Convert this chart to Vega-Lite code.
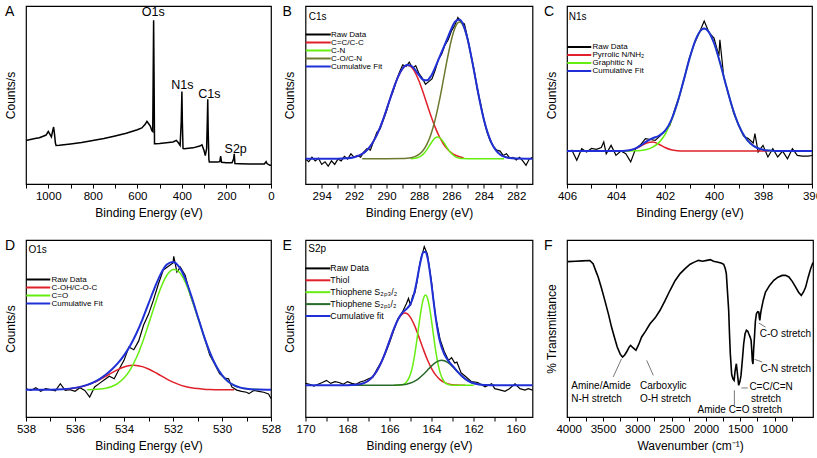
{
"$schema":"https://vega.github.io/schema/vega-lite/v6.json",
"padding":{"left":3,"top":4,"right":0,"bottom":0},
"background":"white",
"config":{
 "font":"Liberation Sans",
 "view":{"stroke":"#000","strokeWidth":1.2},
 "axis":{"grid":false,"domain":false,"labelColor":"#000","titleColor":"#000","titleFontWeight":"normal","titleFontSize":12,"labelFontSize":11.5,"tickColor":"#000","labelFont":"Liberation Sans","titleFont":"Liberation Sans"},
 "axisX":{"tickSize":4,"labelPadding":2,"titlePadding":6,"labelFlush":false,"labelOverlap":false,"format":"d"},
 "axisY":{"labels":false,"ticks":false,"titlePadding":9},
 "title":{"fontSize":14,"fontWeight":"normal","anchor":"start","frame":"group","color":"#000","offset":0},
 "legend":{"labelColor":"#000","labelFont":"Liberation Sans"}
},
"datasets":{
"A":[{"x":1100,"y":24.5},{"x":1080,"y":25},{"x":1060,"y":25.5},{"x":1040,"y":26},{"x":1020,"y":27},{"x":1010,"y":27.5},{"x":1000,"y":29.5},{"x":993,"y":28},{"x":986,"y":26.5},{"x":980,"y":30},{"x":976,"y":32},{"x":972,"y":28},{"x":968,"y":23},{"x":965,"y":21.7},{"x":950,"y":21.8},{"x":900,"y":22.5},{"x":850,"y":23.3},{"x":800,"y":24.5},{"x":750,"y":25.6},{"x":700,"y":27},{"x":650,"y":28.5},{"x":600,"y":30.5},{"x":580,"y":31.5},{"x":565,"y":33.5},{"x":557,"y":35.2},{"x":550,"y":34},{"x":542,"y":32.6},{"x":535,"y":30},{"x":531,"y":29.5},{"x":529,"y":60},{"x":527,"y":92},{"x":525,"y":60},{"x":523,"y":22.6},{"x":519,"y":22.6},{"x":500,"y":22.8},{"x":470,"y":23.2},{"x":440,"y":23.6},{"x":425,"y":24.5},{"x":415,"y":23},{"x":408,"y":21.7},{"x":403,"y":35},{"x":400,"y":52},{"x":398,"y":35},{"x":395,"y":20},{"x":390,"y":19.8},{"x":350,"y":20.3},{"x":320,"y":21.3},{"x":310,"y":22},{"x":300,"y":18.5},{"x":295,"y":16},{"x":289,"y":20},{"x":286,"y":35},{"x":284,"y":47.6},{"x":282,"y":30},{"x":279,"y":14},{"x":277,"y":12.4},{"x":260,"y":12.4},{"x":240,"y":12.3},{"x":230,"y":12.6},{"x":226,"y":15.7},{"x":222,"y":12.2},{"x":200,"y":12},{"x":175,"y":12},{"x":168,"y":14},{"x":165,"y":17},{"x":162,"y":11.5},{"x":140,"y":11.4},{"x":100,"y":11.3},{"x":60,"y":11.2},{"x":30,"y":11.2},{"x":22,"y":12.5},{"x":18,"y":11.5},{"x":5,"y":10.5},{"x":0,"y":10.5}],
"Alab":[{"t":"O1s","x":528.4,"y":96.4},{"t":"N1s","x":398,"y":55.8},{"t":"C1s","x":277,"y":50.4},{"t":"S2p","x":158.5,"y":19.8}],
"B":[
{"s":"Raw Data","x":295,"y":14},{"s":"Raw Data","x":294.8,"y":12.5},{"s":"Raw Data","x":294.6,"y":15},{"s":"Raw Data","x":294.4,"y":13},{"s":"Raw Data","x":294.2,"y":14.5},{"s":"Raw Data","x":294,"y":11},{"s":"Raw Data","x":293.8,"y":12.5},{"s":"Raw Data","x":293.6,"y":10},{"s":"Raw Data","x":293.4,"y":13},{"s":"Raw Data","x":293.2,"y":11},{"s":"Raw Data","x":293,"y":14},{"s":"Raw Data","x":292.8,"y":13},{"s":"Raw Data","x":292.6,"y":15.5},{"s":"Raw Data","x":292.4,"y":14},{"s":"Raw Data","x":292.2,"y":17},{"s":"Raw Data","x":292,"y":15},{"s":"Raw Data","x":291.8,"y":16},{"s":"Raw Data","x":291.6,"y":15},{"s":"Raw Data","x":291.4,"y":18},{"s":"Raw Data","x":291.2,"y":20},{"s":"Raw Data","x":291,"y":19},{"s":"Raw Data","x":290.8,"y":24},{"s":"Raw Data","x":290.6,"y":29},{"s":"Raw Data","x":290.4,"y":31},{"s":"Raw Data","x":290.2,"y":36},{"s":"Raw Data","x":290,"y":41},{"s":"Raw Data","x":289.8,"y":47.5},{"s":"Raw Data","x":289.6,"y":52},{"s":"Raw Data","x":289.4,"y":58},{"s":"Raw Data","x":289.2,"y":63},{"s":"Raw Data","x":289,"y":67},{"s":"Raw Data","x":288.8,"y":66},{"s":"Raw Data","x":288.6,"y":68.5},{"s":"Raw Data","x":288.4,"y":65},{"s":"Raw Data","x":288.2,"y":66.5},{"s":"Raw Data","x":288,"y":62},{"s":"Raw Data","x":287.8,"y":59.5},{"s":"Raw Data","x":287.6,"y":56},{"s":"Raw Data","x":287.4,"y":57.5},{"s":"Raw Data","x":287.2,"y":59},{"s":"Raw Data","x":287,"y":64},{"s":"Raw Data","x":286.8,"y":70},{"s":"Raw Data","x":286.6,"y":73},{"s":"Raw Data","x":286.4,"y":78},{"s":"Raw Data","x":286.2,"y":81},{"s":"Raw Data","x":286,"y":86},{"s":"Raw Data","x":285.8,"y":89},{"s":"Raw Data","x":285.6,"y":93.5},{"s":"Raw Data","x":285.4,"y":91},{"s":"Raw Data","x":285.2,"y":90},{"s":"Raw Data","x":285,"y":82},{"s":"Raw Data","x":284.8,"y":72.5},{"s":"Raw Data","x":284.6,"y":64},{"s":"Raw Data","x":284.4,"y":53},{"s":"Raw Data","x":284.2,"y":45},{"s":"Raw Data","x":284,"y":36},{"s":"Raw Data","x":283.8,"y":29},{"s":"Raw Data","x":283.6,"y":24},{"s":"Raw Data","x":283.4,"y":21},{"s":"Raw Data","x":283.2,"y":19},{"s":"Raw Data","x":283,"y":18.5},{"s":"Raw Data","x":282.8,"y":16},{"s":"Raw Data","x":282.6,"y":17},{"s":"Raw Data","x":282.4,"y":14.5},{"s":"Raw Data","x":282.2,"y":15},{"s":"Raw Data","x":282,"y":13.5},{"s":"Raw Data","x":281.8,"y":15},{"s":"Raw Data","x":281.6,"y":13},{"s":"Raw Data","x":281.4,"y":10.5},{"s":"Raw Data","x":281.2,"y":14},{"s":"Raw Data","x":281,"y":15},
{"s":"C=C/C-C","x":292,"y":15.06},{"s":"C=C/C-C","x":291.5,"y":16.91},{"s":"C=C/C-C","x":291.25,"y":18.69},{"s":"C=C/C-C","x":291,"y":21.3},{"s":"C=C/C-C","x":290.75,"y":24.92},{"s":"C=C/C-C","x":290.5,"y":29.62},{"s":"C=C/C-C","x":290.25,"y":35.37},{"s":"C=C/C-C","x":290,"y":41.91},{"s":"C=C/C-C","x":289.75,"y":48.8},{"s":"C=C/C-C","x":289.5,"y":55.41},{"s":"C=C/C-C","x":289.25,"y":61.02},{"s":"C=C/C-C","x":289,"y":64.94},{"s":"C=C/C-C","x":288.75,"y":66.65},{"s":"C=C/C-C","x":288.5,"y":65.91},{"s":"C=C/C-C","x":288.25,"y":62.83},{"s":"C=C/C-C","x":288,"y":57.82},{"s":"C=C/C-C","x":287.75,"y":51.52},{"s":"C=C/C-C","x":287.5,"y":44.66},{"s":"C=C/C-C","x":287.25,"y":37.91},{"s":"C=C/C-C","x":287,"y":31.8},{"s":"C=C/C-C","x":286.75,"y":26.67},{"s":"C=C/C-C","x":286.5,"y":22.62},{"s":"C=C/C-C","x":286.25,"y":19.63},{"s":"C=C/C-C","x":286,"y":17.54},{"s":"C=C/C-C","x":285.75,"y":16.16},{"s":"C=C/C-C","x":285.5,"y":15.29},{"s":"C=C/C-C","x":285.25,"y":14.78},
{"s":"C-N","x":288.5,"y":14.25},{"s":"C-N","x":288.25,"y":14.44},{"s":"C-N","x":288,"y":15.07},{"s":"C-N","x":287.75,"y":16.62},{"s":"C-N","x":287.5,"y":19.44},{"s":"C-N","x":287.25,"y":23.06},{"s":"C-N","x":287,"y":25.86},{"s":"C-N","x":286.85,"y":26.4},{"s":"C-N","x":286.75,"y":26.16},{"s":"C-N","x":286.5,"y":23.75},{"s":"C-N","x":286.25,"y":20.14},{"s":"C-N","x":286,"y":17.08},{"s":"C-N","x":285.75,"y":15.28},{"s":"C-N","x":285.5,"y":14.52},{"s":"C-N","x":285.25,"y":14.27},{"s":"C-N","x":285,"y":14.2},{"s":"C-N","x":284,"y":14.2},{"s":"C-N","x":282.75,"y":14.2},
{"s":"C-O/C-N","x":291.5,"y":14.2},{"s":"C-O/C-N","x":290,"y":14.2},{"s":"C-O/C-N","x":289,"y":14.29},{"s":"C-O/C-N","x":288.75,"y":14.42},{"s":"C-O/C-N","x":288.5,"y":14.72},{"s":"C-O/C-N","x":288.25,"y":15.36},{"s":"C-O/C-N","x":288,"y":16.61},{"s":"C-O/C-N","x":287.75,"y":18.85},{"s":"C-O/C-N","x":287.5,"y":22.57},{"s":"C-O/C-N","x":287.25,"y":28.28},{"s":"C-O/C-N","x":287,"y":36.28},{"s":"C-O/C-N","x":286.75,"y":46.52},{"s":"C-O/C-N","x":286.5,"y":58.34},{"s":"C-O/C-N","x":286.25,"y":70.44},{"s":"C-O/C-N","x":286,"y":81.07},{"s":"C-O/C-N","x":285.75,"y":88.39},{"s":"C-O/C-N","x":285.5,"y":91},{"s":"C-O/C-N","x":285.25,"y":88.39},{"s":"C-O/C-N","x":285,"y":81.07},{"s":"C-O/C-N","x":284.75,"y":70.44},{"s":"C-O/C-N","x":284.5,"y":58.34},{"s":"C-O/C-N","x":284.25,"y":46.52},{"s":"C-O/C-N","x":284,"y":36.28},{"s":"C-O/C-N","x":283.75,"y":28.28},{"s":"C-O/C-N","x":283.5,"y":22.57},{"s":"C-O/C-N","x":283.25,"y":18.85},{"s":"C-O/C-N","x":283,"y":16.61},{"s":"C-O/C-N","x":282.75,"y":15.36},{"s":"C-O/C-N","x":282.5,"y":14.72},{"s":"C-O/C-N","x":282.25,"y":14.42},{"s":"C-O/C-N","x":282,"y":14.29},
{"s":"Cumulative Fit","x":295,"y":14.2},{"s":"Cumulative Fit","x":294,"y":14.2},{"s":"Cumulative Fit","x":293,"y":14.2},{"s":"Cumulative Fit","x":292.5,"y":14.4},{"s":"Cumulative Fit","x":292,"y":15.06},{"s":"Cumulative Fit","x":291.5,"y":16.91},{"s":"Cumulative Fit","x":291.25,"y":18.69},{"s":"Cumulative Fit","x":291,"y":21.3},{"s":"Cumulative Fit","x":290.75,"y":24.92},{"s":"Cumulative Fit","x":290.5,"y":29.62},{"s":"Cumulative Fit","x":290.25,"y":35.37},{"s":"Cumulative Fit","x":290,"y":41.91},{"s":"Cumulative Fit","x":289.75,"y":48.8},{"s":"Cumulative Fit","x":289.5,"y":55.41},{"s":"Cumulative Fit","x":289.25,"y":61.02},{"s":"Cumulative Fit","x":289,"y":65.03},{"s":"Cumulative Fit","x":288.75,"y":66.87},{"s":"Cumulative Fit","x":288.5,"y":66.48},{"s":"Cumulative Fit","x":288.25,"y":64.23},{"s":"Cumulative Fit","x":288,"y":61.1},{"s":"Cumulative Fit","x":287.75,"y":58.59},{"s":"Cumulative Fit","x":287.5,"y":58.27},{"s":"Cumulative Fit","x":287.25,"y":60.85},{"s":"Cumulative Fit","x":287,"y":65.54},{"s":"Cumulative Fit","x":286.75,"y":70.95},{"s":"Cumulative Fit","x":286.5,"y":76.31},{"s":"Cumulative Fit","x":286.25,"y":81.81},{"s":"Cumulative Fit","x":286,"y":87.29},{"s":"Cumulative Fit","x":285.75,"y":91.43},{"s":"Cumulative Fit","x":285.5,"y":92.41},{"s":"Cumulative Fit","x":285.25,"y":89.04},{"s":"Cumulative Fit","x":285,"y":81.37},{"s":"Cumulative Fit","x":284.75,"y":70.44},{"s":"Cumulative Fit","x":284.5,"y":58.34},{"s":"Cumulative Fit","x":284.25,"y":46.52},{"s":"Cumulative Fit","x":284,"y":36.28},{"s":"Cumulative Fit","x":283.75,"y":28.28},{"s":"Cumulative Fit","x":283.5,"y":22.57},{"s":"Cumulative Fit","x":283.25,"y":18.85},{"s":"Cumulative Fit","x":283,"y":16.61},{"s":"Cumulative Fit","x":282.75,"y":15.36},{"s":"Cumulative Fit","x":282.5,"y":14.72},{"s":"Cumulative Fit","x":282,"y":14.29},{"s":"Cumulative Fit","x":281,"y":14.2}
],
"C":[
{"s":"Raw Data","x":406,"y":18},{"s":"Raw Data","x":405.8,"y":19},{"s":"Raw Data","x":405.6,"y":13.3},{"s":"Raw Data","x":405.4,"y":19.8},{"s":"Raw Data","x":405.2,"y":18},{"s":"Raw Data","x":405,"y":20},{"s":"Raw Data","x":404.8,"y":19.5},{"s":"Raw Data","x":404.6,"y":20.5},{"s":"Raw Data","x":404.5,"y":23.6},{"s":"Raw Data","x":404.4,"y":17},{"s":"Raw Data","x":404.2,"y":21.7},{"s":"Raw Data","x":404,"y":16.1},{"s":"Raw Data","x":403.8,"y":18.5},{"s":"Raw Data","x":403.6,"y":17},{"s":"Raw Data","x":403.4,"y":12.4},{"s":"Raw Data","x":403.2,"y":19.8},{"s":"Raw Data","x":403,"y":22},{"s":"Raw Data","x":402.8,"y":25.5},{"s":"Raw Data","x":402.6,"y":25},{"s":"Raw Data","x":402.4,"y":24.5},{"s":"Raw Data","x":402.2,"y":27},{"s":"Raw Data","x":402,"y":30},{"s":"Raw Data","x":401.8,"y":33},{"s":"Raw Data","x":401.6,"y":42},{"s":"Raw Data","x":401.4,"y":50},{"s":"Raw Data","x":401.2,"y":60},{"s":"Raw Data","x":401,"y":71},{"s":"Raw Data","x":400.8,"y":79},{"s":"Raw Data","x":400.6,"y":85},{"s":"Raw Data","x":400.4,"y":91.5},{"s":"Raw Data","x":400.2,"y":85},{"s":"Raw Data","x":400,"y":82},{"s":"Raw Data","x":399.8,"y":72},{"s":"Raw Data","x":399.76,"y":81},{"s":"Raw Data","x":399.6,"y":60},{"s":"Raw Data","x":399.4,"y":50},{"s":"Raw Data","x":399.2,"y":40},{"s":"Raw Data","x":399,"y":33},{"s":"Raw Data","x":398.8,"y":27},{"s":"Raw Data","x":398.6,"y":25.5},{"s":"Raw Data","x":398.4,"y":23},{"s":"Raw Data","x":398.33,"y":28.3},{"s":"Raw Data","x":398.2,"y":18},{"s":"Raw Data","x":398,"y":21.7},{"s":"Raw Data","x":397.8,"y":15.2},{"s":"Raw Data","x":397.6,"y":19.8},{"s":"Raw Data","x":397.4,"y":15.2},{"s":"Raw Data","x":397.2,"y":18.5},{"s":"Raw Data","x":397,"y":14.2},{"s":"Raw Data","x":396.8,"y":19.8},{"s":"Raw Data","x":396.6,"y":16.1},{"s":"Raw Data","x":396.4,"y":15.7},{"s":"Raw Data","x":396.16,"y":15.7},{"s":"Raw Data","x":396,"y":16},
{"s":"Pyrrolic N/NH₂","x":403.75,"y":18.55},{"s":"Pyrrolic N/NH₂","x":403.5,"y":18.8},{"s":"Pyrrolic N/NH₂","x":403.25,"y":19.6},{"s":"Pyrrolic N/NH₂","x":403,"y":21.21},{"s":"Pyrrolic N/NH₂","x":402.75,"y":23},{"s":"Pyrrolic N/NH₂","x":402.5,"y":23.56},{"s":"Pyrrolic N/NH₂","x":402.25,"y":22.35},{"s":"Pyrrolic N/NH₂","x":402,"y":20.48},{"s":"Pyrrolic N/NH₂","x":401.75,"y":19.19},{"s":"Pyrrolic N/NH₂","x":401.5,"y":18.66},{"s":"Pyrrolic N/NH₂","x":401.25,"y":18.52},{"s":"Pyrrolic N/NH₂","x":401,"y":18.5},{"s":"Pyrrolic N/NH₂","x":399,"y":18.5},{"s":"Pyrrolic N/NH₂","x":397.75,"y":18.5},
{"s":"Graphitic N","x":403.75,"y":18.5},{"s":"Graphitic N","x":403.5,"y":18.54},{"s":"Graphitic N","x":403.25,"y":18.62},{"s":"Graphitic N","x":403,"y":18.85},{"s":"Graphitic N","x":402.75,"y":19.42},{"s":"Graphitic N","x":402.5,"y":20.69},{"s":"Graphitic N","x":402.25,"y":23.25},{"s":"Graphitic N","x":402,"y":27.81},{"s":"Graphitic N","x":401.75,"y":35.07},{"s":"Graphitic N","x":401.5,"y":45.24},{"s":"Graphitic N","x":401.25,"y":57.63},{"s":"Graphitic N","x":401,"y":70.44},{"s":"Graphitic N","x":400.75,"y":81.02},{"s":"Graphitic N","x":400.5,"y":86.76},{"s":"Graphitic N","x":400.4,"y":87.3},{"s":"Graphitic N","x":400.25,"y":86.1},{"s":"Graphitic N","x":400,"y":79.22},{"s":"Graphitic N","x":399.75,"y":67.96},{"s":"Graphitic N","x":399.5,"y":55.03},{"s":"Graphitic N","x":399.25,"y":42.99},{"s":"Graphitic N","x":399,"y":33.38},{"s":"Graphitic N","x":398.75,"y":26.7},{"s":"Graphitic N","x":398.5,"y":22.6},{"s":"Graphitic N","x":398.25,"y":20.36},{"s":"Graphitic N","x":398,"y":19.26},{"s":"Graphitic N","x":397.75,"y":18.79},{"s":"Graphitic N","x":397.5,"y":18.6},
{"s":"Cumulative Fit","x":406,"y":18.5},{"s":"Cumulative Fit","x":405,"y":18.5},{"s":"Cumulative Fit","x":404,"y":18.5},{"s":"Cumulative Fit","x":403.75,"y":18.55},{"s":"Cumulative Fit","x":403.5,"y":18.84},{"s":"Cumulative Fit","x":403.25,"y":19.72},{"s":"Cumulative Fit","x":403,"y":21.56},{"s":"Cumulative Fit","x":402.75,"y":23.92},{"s":"Cumulative Fit","x":402.5,"y":25.75},{"s":"Cumulative Fit","x":402.25,"y":27.1},{"s":"Cumulative Fit","x":402,"y":29.79},{"s":"Cumulative Fit","x":401.75,"y":35.76},{"s":"Cumulative Fit","x":401.5,"y":45.4},{"s":"Cumulative Fit","x":401.25,"y":57.65},{"s":"Cumulative Fit","x":401,"y":70.44},{"s":"Cumulative Fit","x":400.75,"y":81.02},{"s":"Cumulative Fit","x":400.5,"y":86.76},{"s":"Cumulative Fit","x":400.4,"y":87.3},{"s":"Cumulative Fit","x":400.25,"y":86.1},{"s":"Cumulative Fit","x":400,"y":79.22},{"s":"Cumulative Fit","x":399.75,"y":67.96},{"s":"Cumulative Fit","x":399.5,"y":55.03},{"s":"Cumulative Fit","x":399.25,"y":42.99},{"s":"Cumulative Fit","x":399,"y":33.38},{"s":"Cumulative Fit","x":398.75,"y":26.7},{"s":"Cumulative Fit","x":398.5,"y":22.6},{"s":"Cumulative Fit","x":398.25,"y":20.36},{"s":"Cumulative Fit","x":398,"y":19.26},{"s":"Cumulative Fit","x":397.75,"y":18.79},{"s":"Cumulative Fit","x":397.5,"y":18.6},{"s":"Cumulative Fit","x":397,"y":18.5},{"s":"Cumulative Fit","x":396,"y":18.5}
],
"D":[
{"s":"Raw Data","x":538,"y":16},{"s":"Raw Data","x":537.8,"y":15},{"s":"Raw Data","x":537.6,"y":16.5},{"s":"Raw Data","x":537.4,"y":14.5},{"s":"Raw Data","x":537.2,"y":16},{"s":"Raw Data","x":537,"y":15.5},{"s":"Raw Data","x":536.8,"y":14.8},{"s":"Raw Data","x":536.6,"y":18.8},{"s":"Raw Data","x":536.4,"y":15},{"s":"Raw Data","x":536.2,"y":15.5},{"s":"Raw Data","x":536,"y":14.5},{"s":"Raw Data","x":535.8,"y":16.5},{"s":"Raw Data","x":535.6,"y":15},{"s":"Raw Data","x":535.4,"y":11.3},{"s":"Raw Data","x":535.2,"y":17},{"s":"Raw Data","x":535,"y":19},{"s":"Raw Data","x":534.8,"y":21},{"s":"Raw Data","x":534.6,"y":23},{"s":"Raw Data","x":534.4,"y":21.6},{"s":"Raw Data","x":534.2,"y":27},{"s":"Raw Data","x":534,"y":32},{"s":"Raw Data","x":533.8,"y":39.5},{"s":"Raw Data","x":533.6,"y":38},{"s":"Raw Data","x":533.4,"y":43},{"s":"Raw Data","x":533.2,"y":52},{"s":"Raw Data","x":533,"y":58},{"s":"Raw Data","x":532.8,"y":66},{"s":"Raw Data","x":532.6,"y":75},{"s":"Raw Data","x":532.4,"y":83},{"s":"Raw Data","x":532.2,"y":85},{"s":"Raw Data","x":532,"y":87},{"s":"Raw Data","x":531.97,"y":90.8},{"s":"Raw Data","x":531.84,"y":81.9},{"s":"Raw Data","x":531.7,"y":84.7},{"s":"Raw Data","x":531.5,"y":80},{"s":"Raw Data","x":531.3,"y":69},{"s":"Raw Data","x":531.1,"y":61},{"s":"Raw Data","x":530.9,"y":53},{"s":"Raw Data","x":530.7,"y":44},{"s":"Raw Data","x":530.5,"y":35},{"s":"Raw Data","x":530.3,"y":30},{"s":"Raw Data","x":530.1,"y":24.5},{"s":"Raw Data","x":529.9,"y":22},{"s":"Raw Data","x":529.73,"y":21.6},{"s":"Raw Data","x":529.6,"y":17},{"s":"Raw Data","x":529.4,"y":15.2},{"s":"Raw Data","x":529.2,"y":14.5},{"s":"Raw Data","x":529,"y":14},{"s":"Raw Data","x":528.9,"y":13.2},{"s":"Raw Data","x":528.7,"y":15},{"s":"Raw Data","x":528.5,"y":14.5},{"s":"Raw Data","x":528.3,"y":14},{"s":"Raw Data","x":528.1,"y":13},{"s":"Raw Data","x":528,"y":10.4},
{"s":"C-OH/C-O-C","x":536.5,"y":15.7},{"s":"C-OH/C-O-C","x":536,"y":16.41},{"s":"C-OH/C-O-C","x":535.75,"y":17.09},{"s":"C-OH/C-O-C","x":535.5,"y":18.07},{"s":"C-OH/C-O-C","x":535.25,"y":19.4},{"s":"C-OH/C-O-C","x":535,"y":21.06},{"s":"C-OH/C-O-C","x":534.75,"y":22.97},{"s":"C-OH/C-O-C","x":534.5,"y":24.95},{"s":"C-OH/C-O-C","x":534.25,"y":26.79},{"s":"C-OH/C-O-C","x":534,"y":28.23},{"s":"C-OH/C-O-C","x":533.75,"y":29.06},{"s":"C-OH/C-O-C","x":533.6,"y":29.2},{"s":"C-OH/C-O-C","x":533.5,"y":29.14},{"s":"C-OH/C-O-C","x":533.25,"y":28.45},{"s":"C-OH/C-O-C","x":533,"y":27.11},{"s":"C-OH/C-O-C","x":532.75,"y":25.34},{"s":"C-OH/C-O-C","x":532.5,"y":23.36},{"s":"C-OH/C-O-C","x":532.25,"y":21.43},{"s":"C-OH/C-O-C","x":532,"y":19.71},{"s":"C-OH/C-O-C","x":531.75,"y":18.31},{"s":"C-OH/C-O-C","x":531.5,"y":17.27},{"s":"C-OH/C-O-C","x":531.25,"y":16.52},{"s":"C-OH/C-O-C","x":531,"y":16.04},{"s":"C-OH/C-O-C","x":530.75,"y":15.74},{"s":"C-OH/C-O-C","x":530.5,"y":15.57},{"s":"C-OH/C-O-C","x":530,"y":15.43},{"s":"C-OH/C-O-C","x":529.5,"y":15.4},
{"s":"C=O","x":535.5,"y":15.46},{"s":"C=O","x":535.25,"y":15.56},{"s":"C=O","x":535,"y":15.79},{"s":"C=O","x":534.75,"y":16.27},{"s":"C=O","x":534.5,"y":17.23},{"s":"C=O","x":534.25,"y":19},{"s":"C=O","x":534,"y":21.98},{"s":"C=O","x":533.75,"y":26.6},{"s":"C=O","x":533.5,"y":33.3},{"s":"C=O","x":533.25,"y":42},{"s":"C=O","x":533,"y":52.3},{"s":"C=O","x":532.75,"y":63},{"s":"C=O","x":532.5,"y":72.9},{"s":"C=O","x":532.25,"y":80.1},{"s":"C=O","x":532,"y":83.3},{"s":"C=O","x":531.95,"y":83.4},{"s":"C=O","x":531.75,"y":81.9},{"s":"C=O","x":531.5,"y":76.16},{"s":"C=O","x":531.25,"y":67.21},{"s":"C=O","x":531,"y":56.6},{"s":"C=O","x":530.75,"y":45.95},{"s":"C=O","x":530.5,"y":36.55},{"s":"C=O","x":530.25,"y":29.06},{"s":"C=O","x":530,"y":23.63},{"s":"C=O","x":529.75,"y":20.01},{"s":"C=O","x":529.5,"y":17.82},{"s":"C=O","x":529.25,"y":16.59},{"s":"C=O","x":529,"y":15.94},{"s":"C=O","x":528.5,"y":15.5},
{"s":"Cumulative Fit","x":538,"y":15.4},{"s":"Cumulative Fit","x":537,"y":15.45},{"s":"Cumulative Fit","x":536.5,"y":15.72},{"s":"Cumulative Fit","x":536,"y":16.45},{"s":"Cumulative Fit","x":535.75,"y":17.15},{"s":"Cumulative Fit","x":535.5,"y":18.13},{"s":"Cumulative Fit","x":535.25,"y":19.56},{"s":"Cumulative Fit","x":535,"y":21.45},{"s":"Cumulative Fit","x":534.75,"y":23.84},{"s":"Cumulative Fit","x":534.5,"y":26.78},{"s":"Cumulative Fit","x":534.25,"y":30.39},{"s":"Cumulative Fit","x":534,"y":34.81},{"s":"Cumulative Fit","x":533.75,"y":40.26},{"s":"Cumulative Fit","x":533.5,"y":47.04},{"s":"Cumulative Fit","x":533.25,"y":55.05},{"s":"Cumulative Fit","x":533,"y":64.01},{"s":"Cumulative Fit","x":532.75,"y":72.94},{"s":"Cumulative Fit","x":532.5,"y":80.86},{"s":"Cumulative Fit","x":532.25,"y":86.13},{"s":"Cumulative Fit","x":532,"y":87.61},{"s":"Cumulative Fit","x":531.75,"y":84.81},{"s":"Cumulative Fit","x":531.5,"y":78.03},{"s":"Cumulative Fit","x":531.25,"y":68.33},{"s":"Cumulative Fit","x":531,"y":57.24},{"s":"Cumulative Fit","x":530.75,"y":46.29},{"s":"Cumulative Fit","x":530.5,"y":36.72},{"s":"Cumulative Fit","x":530.25,"y":29.14},{"s":"Cumulative Fit","x":530,"y":23.66},{"s":"Cumulative Fit","x":529.75,"y":20.01},{"s":"Cumulative Fit","x":529.5,"y":17.82},{"s":"Cumulative Fit","x":529.25,"y":16.59},{"s":"Cumulative Fit","x":529,"y":15.94},{"s":"Cumulative Fit","x":528.5,"y":15.5},{"s":"Cumulative Fit","x":528,"y":15.4}
],
"E":[
{"s":"Raw Data","x":170,"y":19},{"s":"Raw Data","x":169.8,"y":18.5},{"s":"Raw Data","x":169.6,"y":17.5},{"s":"Raw Data","x":169.4,"y":18.5},{"s":"Raw Data","x":169.2,"y":19.5},{"s":"Raw Data","x":169,"y":20.7},{"s":"Raw Data","x":168.8,"y":19},{"s":"Raw Data","x":168.6,"y":20},{"s":"Raw Data","x":168.4,"y":19.5},{"s":"Raw Data","x":168.2,"y":18.5},{"s":"Raw Data","x":168,"y":20},{"s":"Raw Data","x":167.8,"y":19},{"s":"Raw Data","x":167.6,"y":18.5},{"s":"Raw Data","x":167.4,"y":19.8},{"s":"Raw Data","x":167.2,"y":20.5},{"s":"Raw Data","x":167,"y":21.6},{"s":"Raw Data","x":166.8,"y":22.5},{"s":"Raw Data","x":166.6,"y":27},{"s":"Raw Data","x":166.4,"y":31},{"s":"Raw Data","x":166.2,"y":36},{"s":"Raw Data","x":166,"y":42},{"s":"Raw Data","x":165.8,"y":49},{"s":"Raw Data","x":165.6,"y":55.5},{"s":"Raw Data","x":165.4,"y":59},{"s":"Raw Data","x":165.2,"y":64},{"s":"Raw Data","x":165.1,"y":67},{"s":"Raw Data","x":165,"y":63},{"s":"Raw Data","x":164.9,"y":68.5},{"s":"Raw Data","x":164.8,"y":70},{"s":"Raw Data","x":164.7,"y":76},{"s":"Raw Data","x":164.6,"y":84},{"s":"Raw Data","x":164.5,"y":90},{"s":"Raw Data","x":164.4,"y":94},{"s":"Raw Data","x":164.35,"y":96.3},{"s":"Raw Data","x":164.2,"y":92},{"s":"Raw Data","x":164.1,"y":84},{"s":"Raw Data","x":164,"y":76},{"s":"Raw Data","x":163.9,"y":65},{"s":"Raw Data","x":163.8,"y":56},{"s":"Raw Data","x":163.7,"y":50},{"s":"Raw Data","x":163.6,"y":44},{"s":"Raw Data","x":163.4,"y":37},{"s":"Raw Data","x":163.2,"y":32},{"s":"Raw Data","x":163.05,"y":33.5},{"s":"Raw Data","x":162.9,"y":30.5},{"s":"Raw Data","x":162.8,"y":31},{"s":"Raw Data","x":162.6,"y":25},{"s":"Raw Data","x":162.4,"y":23},{"s":"Raw Data","x":162.1,"y":20},{"s":"Raw Data","x":161.8,"y":19.5},{"s":"Raw Data","x":161.46,"y":17},{"s":"Raw Data","x":161.14,"y":18.8},{"s":"Raw Data","x":161,"y":16},{"s":"Raw Data","x":160.8,"y":15.5},{"s":"Raw Data","x":160.51,"y":14.5},{"s":"Raw Data","x":160.3,"y":16},{"s":"Raw Data","x":160.03,"y":18.8},{"s":"Raw Data","x":159.8,"y":16},{"s":"Raw Data","x":159.56,"y":15.2},{"s":"Raw Data","x":159.4,"y":16},{"s":"Raw Data","x":159.2,"y":15.2},
{"s":"Thiol","x":168,"y":17.95},{"s":"Thiol","x":167.6,"y":18.19},{"s":"Thiol","x":167.4,"y":18.56},{"s":"Thiol","x":167.2,"y":19.28},{"s":"Thiol","x":167,"y":20.59},{"s":"Thiol","x":166.8,"y":22.77},{"s":"Thiol","x":166.6,"y":26.09},{"s":"Thiol","x":166.4,"y":30.71},{"s":"Thiol","x":166.2,"y":36.53},{"s":"Thiol","x":166,"y":43.09},{"s":"Thiol","x":165.8,"y":49.58},{"s":"Thiol","x":165.6,"y":54.94},{"s":"Thiol","x":165.4,"y":58.17},{"s":"Thiol","x":165.27,"y":58.8},{"s":"Thiol","x":165.2,"y":58.62},{"s":"Thiol","x":165,"y":56.18},{"s":"Thiol","x":164.8,"y":51.36},{"s":"Thiol","x":164.6,"y":45.1},{"s":"Thiol","x":164.4,"y":38.45},{"s":"Thiol","x":164.2,"y":32.34},{"s":"Thiol","x":164,"y":27.34},{"s":"Thiol","x":163.8,"y":23.64},{"s":"Thiol","x":163.6,"y":21.14},{"s":"Thiol","x":163.4,"y":19.6},{"s":"Thiol","x":163.2,"y":18.73},{"s":"Thiol","x":163,"y":18.28},{"s":"Thiol","x":162.8,"y":18.06},{"s":"Thiol","x":162.6,"y":17.96},{"s":"Thiol","x":162.4,"y":17.9},
{"s":"Thiophene S₂ₚ₃/₂","x":165.8,"y":17.9},{"s":"Thiophene S₂ₚ₃/₂","x":165.6,"y":17.95},{"s":"Thiophene S₂ₚ₃/₂","x":165.4,"y":18.23},{"s":"Thiophene S₂ₚ₃/₂","x":165.2,"y":19.64},{"s":"Thiophene S₂ₚ₃/₂","x":165,"y":24.41},{"s":"Thiophene S₂ₚ₃/₂","x":164.9,"y":29.07},{"s":"Thiophene S₂ₚ₃/₂","x":164.8,"y":35.54},{"s":"Thiophene S₂ₚ₃/₂","x":164.7,"y":43.58},{"s":"Thiophene S₂ₚ₃/₂","x":164.6,"y":52.35},{"s":"Thiophene S₂ₚ₃/₂","x":164.5,"y":60.5},{"s":"Thiophene S₂ₚ₃/₂","x":164.4,"y":66.44},{"s":"Thiophene S₂ₚ₃/₂","x":164.29,"y":68.9},{"s":"Thiophene S₂ₚ₃/₂","x":164.2,"y":67.24},{"s":"Thiophene S₂ₚ₃/₂","x":164.1,"y":61.9},{"s":"Thiophene S₂ₚ₃/₂","x":164,"y":54.08},{"s":"Thiophene S₂ₚ₃/₂","x":163.9,"y":45.31},{"s":"Thiophene S₂ₚ₃/₂","x":163.8,"y":37.04},{"s":"Thiophene S₂ₚ₃/₂","x":163.7,"y":30.22},{"s":"Thiophene S₂ₚ₃/₂","x":163.6,"y":25.2},{"s":"Thiophene S₂ₚ₃/₂","x":163.4,"y":19.91},{"s":"Thiophene S₂ₚ₃/₂","x":163.2,"y":18.3},{"s":"Thiophene S₂ₚ₃/₂","x":163,"y":17.96},{"s":"Thiophene S₂ₚ₃/₂","x":162.8,"y":17.9},{"s":"Thiophene S₂ₚ₃/₂","x":162,"y":17.9},
{"s":"Thiophene S₂ₚ₁/₂","x":167.7,"y":17.9},{"s":"Thiophene S₂ₚ₁/₂","x":166,"y":17.92},{"s":"Thiophene S₂ₚ₁/₂","x":165.6,"y":18.03},{"s":"Thiophene S₂ₚ₁/₂","x":165.2,"y":18.56},{"s":"Thiophene S₂ₚ₁/₂","x":165,"y":19.2},{"s":"Thiophene S₂ₚ₁/₂","x":164.8,"y":20.28},{"s":"Thiophene S₂ₚ₁/₂","x":164.6,"y":21.87},{"s":"Thiophene S₂ₚ₁/₂","x":164.4,"y":23.97},{"s":"Thiophene S₂ₚ₁/₂","x":164.2,"y":26.43},{"s":"Thiophene S₂ₚ₁/₂","x":164,"y":28.88},{"s":"Thiophene S₂ₚ₁/₂","x":163.8,"y":30.85},{"s":"Thiophene S₂ₚ₁/₂","x":163.6,"y":31.9},{"s":"Thiophene S₂ₚ₁/₂","x":163.52,"y":32},{"s":"Thiophene S₂ₚ₁/₂","x":163.4,"y":31.78},{"s":"Thiophene S₂ₚ₁/₂","x":163.2,"y":30.52},{"s":"Thiophene S₂ₚ₁/₂","x":163,"y":28.41},{"s":"Thiophene S₂ₚ₁/₂","x":162.8,"y":25.93},{"s":"Thiophene S₂ₚ₁/₂","x":162.6,"y":23.52},{"s":"Thiophene S₂ₚ₁/₂","x":162.4,"y":21.51},{"s":"Thiophene S₂ₚ₁/₂","x":162.2,"y":20.02},{"s":"Thiophene S₂ₚ₁/₂","x":162,"y":19.05},{"s":"Thiophene S₂ₚ₁/₂","x":161.8,"y":18.47},{"s":"Thiophene S₂ₚ₁/₂","x":161.6,"y":18.16},{"s":"Thiophene S₂ₚ₁/₂","x":161.4,"y":18.01},{"s":"Thiophene S₂ₚ₁/₂","x":161,"y":17.91},
{"s":"Cumulative fit","x":170,"y":17.9},{"s":"Cumulative fit","x":169,"y":17.9},{"s":"Cumulative fit","x":168,"y":17.95},{"s":"Cumulative fit","x":167.6,"y":18.19},{"s":"Cumulative fit","x":167.4,"y":18.56},{"s":"Cumulative fit","x":167.2,"y":19.28},{"s":"Cumulative fit","x":167,"y":20.59},{"s":"Cumulative fit","x":166.8,"y":22.77},{"s":"Cumulative fit","x":166.6,"y":26.09},{"s":"Cumulative fit","x":166.4,"y":30.71},{"s":"Cumulative fit","x":166.2,"y":36.54},{"s":"Cumulative fit","x":166,"y":43.11},{"s":"Cumulative fit","x":165.8,"y":49.63},{"s":"Cumulative fit","x":165.6,"y":55.12},{"s":"Cumulative fit","x":165.4,"y":58.8},{"s":"Cumulative fit","x":165.2,"y":61.02},{"s":"Cumulative fit","x":165,"y":63.99},{"s":"Cumulative fit","x":164.9,"y":66.97},{"s":"Cumulative fit","x":164.8,"y":71.38},{"s":"Cumulative fit","x":164.7,"y":77.12},{"s":"Cumulative fit","x":164.6,"y":83.52},{"s":"Cumulative fit","x":164.5,"y":89.31},{"s":"Cumulative fit","x":164.4,"y":93.06},{"s":"Cumulative fit","x":164.29,"y":93.38},{"s":"Cumulative fit","x":164.2,"y":90.21},{"s":"Cumulative fit","x":164.1,"y":83.46},{"s":"Cumulative fit","x":164,"y":74.5},{"s":"Cumulative fit","x":163.9,"y":64.79},{"s":"Cumulative fit","x":163.8,"y":55.73},{"s":"Cumulative fit","x":163.7,"y":48.17},{"s":"Cumulative fit","x":163.6,"y":42.44},{"s":"Cumulative fit","x":163.4,"y":35.49},{"s":"Cumulative fit","x":163.2,"y":31.75},{"s":"Cumulative fit","x":163,"y":28.85},{"s":"Cumulative fit","x":162.8,"y":26.09},{"s":"Cumulative fit","x":162.6,"y":23.58},{"s":"Cumulative fit","x":162.4,"y":21.51},{"s":"Cumulative fit","x":162.2,"y":20.02},{"s":"Cumulative fit","x":162,"y":19.05},{"s":"Cumulative fit","x":161.8,"y":18.47},{"s":"Cumulative fit","x":161.6,"y":18.16},{"s":"Cumulative fit","x":161.4,"y":18.01},{"s":"Cumulative fit","x":161,"y":17.91},{"s":"Cumulative fit","x":160,"y":17.9},{"s":"Cumulative fit","x":159.2,"y":17.9}
],
"F":[{"x":4010,"y":87.8},{"x":3900,"y":88},{"x":3800,"y":88.2},{"x":3693,"y":88.4},{"x":3645,"y":86.6},{"x":3600,"y":82},{"x":3571,"y":79.1},{"x":3520,"y":72.5},{"x":3474,"y":65.9},{"x":3420,"y":58},{"x":3376,"y":50.8},{"x":3330,"y":44.5},{"x":3293,"y":39.5},{"x":3250,"y":35.5},{"x":3215,"y":33.9},{"x":3185,"y":35},{"x":3157,"y":36.7},{"x":3120,"y":39.5},{"x":3098,"y":40.5},{"x":3060,"y":39},{"x":3020,"y":37.7},{"x":2980,"y":41},{"x":2937,"y":45.2},{"x":2880,"y":48.5},{"x":2815,"y":52.7},{"x":2740,"y":56},{"x":2669,"y":60.3},{"x":2600,"y":65.5},{"x":2523,"y":71.6},{"x":2450,"y":77},{"x":2376,"y":81},{"x":2300,"y":84},{"x":2230,"y":86.3},{"x":2170,"y":87.5},{"x":2108,"y":88.5},{"x":2050,"y":88},{"x":1986,"y":88.5},{"x":1937,"y":88.9},{"x":1890,"y":88},{"x":1840,"y":87.6},{"x":1780,"y":87},{"x":1742,"y":86.3},{"x":1720,"y":84},{"x":1703,"y":81},{"x":1685,"y":70},{"x":1669,"y":60.3},{"x":1655,"y":45},{"x":1645,"y":35.8},{"x":1625,"y":24},{"x":1606,"y":21.5},{"x":1590,"y":20.7},{"x":1575,"y":26},{"x":1557,"y":30.1},{"x":1540,"y":24},{"x":1523,"y":17.9},{"x":1505,"y":20},{"x":1489,"y":23.5},{"x":1470,"y":32},{"x":1450,"y":41.4},{"x":1430,"y":47},{"x":1410,"y":49},{"x":1390,"y":48.5},{"x":1376,"y":47},{"x":1355,"y":45},{"x":1342,"y":43.3},{"x":1333,"y":38},{"x":1325,"y":32},{"x":1315,"y":29.9},{"x":1305,"y":38},{"x":1293,"y":45.2},{"x":1280,"y":54},{"x":1264,"y":58.4},{"x":1245,"y":59.5},{"x":1230,"y":59.3},{"x":1222,"y":56},{"x":1215,"y":54.6},{"x":1205,"y":58},{"x":1196,"y":60.3},{"x":1165,"y":66},{"x":1132,"y":70.6},{"x":1070,"y":74.5},{"x":1011,"y":77.2},{"x":950,"y":79},{"x":889,"y":80},{"x":840,"y":80},{"x":791,"y":79.1},{"x":740,"y":76.5},{"x":693,"y":73.4},{"x":650,"y":70.5},{"x":611,"y":68.7},{"x":580,"y":70.5},{"x":547,"y":73.4},{"x":510,"y":79},{"x":474,"y":83.8},{"x":440,"y":87.3}],
"Farr":[{"x":3352,"y":22.6,"x2":3230,"y2":32.9},{"x":2767,"y":23.5,"x2":2864,"y2":32},{"x":1586,"y":6.6,"x2":1586,"y2":15.1},{"x":1391,"y":16.4,"x2":1484,"y2":16.4},{"x":1132,"y":50.8,"x2":1230,"y2":53.1},{"x":1181,"y":31.1,"x2":1294,"y2":32.6}],
"Ftxt":[{"t":"Amine/Amide","x":3962,"y":17.3},{"t":"N-H stretch","x":3962,"y":10.3},{"t":"Carboxylic","x":2962,"y":17.3},{"t":"O-H stretch","x":2962,"y":10.3},{"t":"C=C/C=N","x":1367,"y":16.9},{"t":"stretch","x":1342,"y":10},{"t":"Amide C=O stretch","x":2123,"y":4.1},{"t":"C-O stretch","x":1215,"y":47.1},{"t":"C-N stretch","x":1206,"y":27.3}]
},
"columns":3,
"spacing":{"row":56,"column":34.5},
"bounds":"flush",
"align":"each",
"resolve":{"scale":{"x":"independent","y":"independent","color":"independent"},"legend":{"color":"independent"}},
"concat":[
 {"width":245,"height":178,"title":{"text":"A","dx":-21,"dy":17},
  "encoding":{"x":{"field":"x","type":"quantitative","scale":{"domain":[0,1100],"reverse":true,"nice":false,"zero":false},"axis":{"title":"Binding Energy (eV)","values":[0,100,200,300,400,500,600,700,800,900,1000,1100],"labelExpr":"datum.value % 200 == 0 ? datum.label : ''"}},
   "y":{"field":"y","type":"quantitative","scale":{"domain":[0,100],"nice":false},"axis":{"title":"Counts/s"}}},
  "layer":[
   {"data":{"name":"A"},"mark":{"type":"line","color":"#000","strokeWidth":1.5}},
   {"data":{"name":"Alab"},"mark":{"type":"text","fontSize":12.5,"color":"#000","baseline":"middle"},"encoding":{"text":{"field":"t"}}}
  ]},
 {"width":227,"height":178,"title":{"text":"B","dx":-23,"dy":17},
  "encoding":{"x":{"field":"x","type":"quantitative","scale":{"domain":[281,295],"reverse":true,"nice":false,"zero":false},"axis":{"title":"Binding Energy (eV)","values":[282,283,284,285,286,287,288,289,290,291,292,293,294],"labelExpr":"datum.value % 2 == 0 ? datum.label : ''"}},
   "y":{"field":"y","type":"quantitative","scale":{"domain":[0,100],"nice":false},"axis":{"title":"Counts/s"}},
   "color":{"field":"s","type":"nominal","scale":{"domain":["Raw Data","C=C/C-C","C-N","C-O/C-N","Cumulative Fit"],"range":["#000000","#E0202A","#66EE11","#6B7A2E","#2030D8"]},
     "legend":{"title":null,"orient":"none","legendX":0,"legendY":24.5,"padding":0,"labelFontSize":8,"symbolType":"M-1.5,0H8.5","symbolSize":25,"symbolStrokeWidth":2,"labelOffset":17.5,"rowPadding":-0.8,"labelLimit":300}}},
  "layer":[
   {"data":{"name":"B"},"transform":[{"filter":"datum.s == 'Raw Data'"}],"mark":{"type":"line","strokeWidth":1.2}},
   {"data":{"name":"B"},"transform":[{"filter":"datum.s != 'Raw Data' && datum.s != 'Cumulative Fit'"}],"mark":{"type":"line","strokeWidth":1.5,"interpolate":"monotone"}},
   {"data":{"name":"B"},"transform":[{"filter":"datum.s == 'Cumulative Fit'"}],"mark":{"type":"line","strokeWidth":2,"interpolate":"monotone"}},
   {"data":{"values":[{"t":"C1s","x":294.8,"y":93.8}]},"mark":{"type":"text","align":"left","baseline":"middle","fontSize":10},"encoding":{"text":{"field":"t"},"color":{"value":"#000"}}}
  ]},
 {"width":245,"height":178,"title":{"text":"C","dx":-23,"dy":17},
  "encoding":{"x":{"field":"x","type":"quantitative","scale":{"domain":[396,406],"reverse":true,"nice":false,"zero":false},"axis":{"title":"Binding Energy (eV)","values":[396,397,398,399,400,401,402,403,404,405,406],"labelExpr":"datum.value % 2 == 0 ? datum.label : ''"}},
   "y":{"field":"y","type":"quantitative","scale":{"domain":[0,100],"nice":false},"axis":{"title":"Counts/s"}},
   "color":{"field":"s","type":"nominal","scale":{"domain":["Raw Data","Pyrrolic N/NH₂","Graphitic N","Cumulative Fit"],"range":["#000000","#E0202A","#66EE11","#2030D8"]},
     "legend":{"title":null,"orient":"none","legendX":0,"legendY":37,"padding":0,"labelFontSize":8,"symbolType":"M-1.5,0H8.1","symbolSize":25,"symbolStrokeWidth":2,"labelOffset":17.5,"rowPadding":-1.5,"labelLimit":300}}},
  "layer":[
   {"data":{"name":"C"},"transform":[{"filter":"datum.s == 'Raw Data'"}],"mark":{"type":"line","strokeWidth":1.2}},
   {"data":{"name":"C"},"transform":[{"filter":"datum.s != 'Raw Data' && datum.s != 'Cumulative Fit'"}],"mark":{"type":"line","strokeWidth":1.5,"interpolate":"monotone"}},
   {"data":{"name":"C"},"transform":[{"filter":"datum.s == 'Cumulative Fit'"}],"mark":{"type":"line","strokeWidth":2,"interpolate":"monotone"}},
   {"data":{"values":[{"t":"N1s","x":405.93,"y":93.8}]},"mark":{"type":"text","align":"left","baseline":"middle","fontSize":10},"encoding":{"text":{"field":"t"},"color":{"value":"#000"}}}
  ]},
 {"width":245,"height":177,"title":{"text":"D","dx":-21,"dy":17},
  "encoding":{"x":{"field":"x","type":"quantitative","scale":{"domain":[528,538],"reverse":true,"nice":false,"zero":false},"axis":{"title":"Binding Energy (eV)","values":[528,529,530,531,532,533,534,535,536,537,538],"labelExpr":"datum.value % 2 == 0 ? datum.label : ''"}},
   "y":{"field":"y","type":"quantitative","scale":{"domain":[0,100],"nice":false},"axis":{"title":"Counts/s"}},
   "color":{"field":"s","type":"nominal","scale":{"domain":["Raw Data","C-OH/C-O-C","C=O","Cumulative Fit"],"range":["#000000","#E0202A","#66EE11","#2030D8"]},
     "legend":{"title":null,"orient":"none","legendX":0,"legendY":35.5,"padding":0,"labelFontSize":8,"symbolType":"M-1.5,0H8.1","symbolSize":25,"symbolStrokeWidth":2,"labelOffset":17.5,"rowPadding":-1,"labelLimit":300}}},
  "layer":[
   {"data":{"name":"D"},"transform":[{"filter":"datum.s == 'Raw Data'"}],"mark":{"type":"line","strokeWidth":1.2}},
   {"data":{"name":"D"},"transform":[{"filter":"datum.s != 'Raw Data' && datum.s != 'Cumulative Fit'"}],"mark":{"type":"line","strokeWidth":1.5,"interpolate":"monotone"}},
   {"data":{"name":"D"},"transform":[{"filter":"datum.s == 'Cumulative Fit'"}],"mark":{"type":"line","strokeWidth":2,"interpolate":"monotone"}},
   {"data":{"values":[{"t":"O1s","x":537.9,"y":94.2}]},"mark":{"type":"text","align":"left","baseline":"middle","fontSize":10},"encoding":{"text":{"field":"t"},"color":{"value":"#000"}}}
  ]},
 {"width":227,"height":177,"title":{"text":"E","dx":-23,"dy":17},
  "encoding":{"x":{"field":"x","type":"quantitative","scale":{"domain":[159.2,170],"reverse":true,"nice":false,"zero":false},"axis":{"title":"Binding energy (eV)","values":[160,161,162,163,164,165,166,167,168,169,170],"labelExpr":"datum.value % 2 == 0 ? datum.label : ''"}},
   "y":{"field":"y","type":"quantitative","scale":{"domain":[0,100],"nice":false},"axis":{"title":"Counts/s"}},
   "color":{"field":"s","type":"nominal","scale":{"domain":["Raw Data","Thiol","Thiophene S₂ₚ₃/₂","Thiophene S₂ₚ₁/₂","Cumulative fit"],"range":["#000000","#E0202A","#66EE11","#2A6A2A","#2030D8"]},
     "legend":{"title":null,"orient":"none","legendX":0,"legendY":24,"padding":0,"labelFontSize":8.8,"symbolType":"M-1.8,0H8.2","symbolSize":25,"symbolStrokeWidth":2,"labelOffset":16,"rowPadding":1.9,"labelLimit":300}}},
  "layer":[
   {"data":{"name":"E"},"transform":[{"filter":"datum.s == 'Raw Data'"}],"mark":{"type":"line","strokeWidth":1.2}},
   {"data":{"name":"E"},"transform":[{"filter":"datum.s != 'Raw Data' && datum.s != 'Cumulative fit'"}],"mark":{"type":"line","strokeWidth":1.5,"interpolate":"monotone"}},
   {"data":{"name":"E"},"transform":[{"filter":"datum.s == 'Cumulative fit'"}],"mark":{"type":"line","strokeWidth":2,"interpolate":"monotone"}},
   {"data":{"values":[{"t":"S2p","x":169.87,"y":95.1}]},"mark":{"type":"text","align":"left","baseline":"middle","fontSize":10},"encoding":{"text":{"field":"t"},"color":{"value":"#000"}}}
  ]},
 {"width":246,"height":177,"title":{"text":"F","dx":-23,"dy":17},
  "encoding":{"x":{"field":"x","type":"quantitative","scale":{"domain":[440,4025],"reverse":true,"nice":false,"zero":false},"axis":{"title":"Wavenumber (cm⁻¹)","values":[750,1000,1250,1500,1750,2000,2250,2500,2750,3000,3250,3500,3750,4000],"labelExpr":"datum.value % 500 == 0 ? datum.label : ''"}},
   "y":{"field":"y","type":"quantitative","scale":{"domain":[0,100],"nice":false},"axis":{"title":"% Transmittance"}}},
  "layer":[
   {"data":{"name":"F"},"mark":{"type":"line","color":"#000","strokeWidth":1.6}},
   {"data":{"name":"Farr"},"mark":{"type":"rule","color":"#555","strokeWidth":0.8},"encoding":{"x2":{"field":"x2"},"y2":{"field":"y2"}}},
   {"data":{"name":"Ftxt"},"mark":{"type":"text","align":"left","baseline":"middle","fontSize":10,"color":"#000"},"encoding":{"text":{"field":"t"}}}
  ]}
]
}
